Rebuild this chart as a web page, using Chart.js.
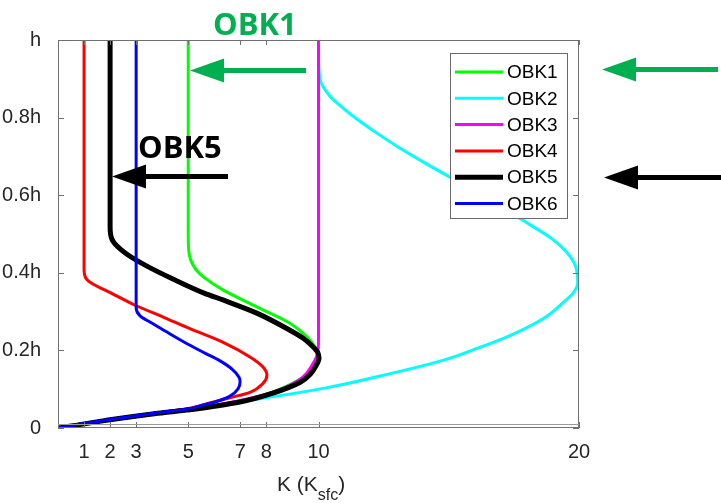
<!DOCTYPE html>
<html lang="en">
<head>
    <meta charset="UTF-8">
    <script src="https://cdn.jsdelivr.net/npm/chart.js"></script>
    <title>OBK profiles</title>
    <style>
        body{ margin:0; background:#fff; }
        #wrap{ width:721px; height:503px; position:relative; }
    </style>
</head>
<body>
    <div id="wrap">
        <canvas id="mychart" width="721" height="503"></canvas>
    </div>
    <script>
        // tick values / labels
        let xTicks = [1,2,3,5,7,8,10,20];
        let yTicks = [0,0.2,0.4,0.6,0.8,1];
        let yTickLabels = ["0","0.2h","0.4h","0.6h","0.8h","h"];

        let names  = ["OBK1","OBK2","OBK3","OBK4","OBK5","OBK6"];
        let colors = ["#00ff00","#00ffff","#ff00ff","#ff0000","#000000","#0000ff"];
        let widths = [3,3,3,3,5,3];

        // K (in K_sfc) and height z (in h), top to bottom
        let obk1K = [5,5,5.02,5.1,5.3,5.63,6.33,7.63,8.9,9.56,9.9,9.98,9.85,9.5,8.9,8.2,7.0,5.7,5.06,3.7,1.79,0.5,0];
        let obk1Z = [1,0.5,0.455,0.432,0.408,0.387,0.356,0.312,0.27,0.235,0.205,0.19,0.16,0.135,0.112,0.092,0.069,0.055,0.049,0.038,0.02,0.006,0];

        let obk2K = [10,10.01,10.06,10.44,10.95,11.6,12.24,13.13,14.16,15.06,16.4,17.7,18.95,19.5,19.85,19.95,19.78,19.42,18.65,17.37,16.08,14.8,12.24,10.33,7.63,5.06,3.7,1.79,0.5,0];
        let obk2Z = [1,0.95,0.898,0.855,0.824,0.79,0.76,0.721,0.68,0.646,0.596,0.541,0.488,0.455,0.42,0.375,0.348,0.325,0.283,0.239,0.205,0.175,0.132,0.104,0.074,0.047,0.037,0.019,0.005,0];

        let obk3K = [10,10,9.99,9.93,9.79,9.4,8.9,8.25,7.0,5.7,5.06,3.7,1.79,0.5,0];
        let obk3Z = [1,0.23,0.205,0.185,0.166,0.131,0.11,0.092,0.071,0.055,0.049,0.038,0.02,0.006,0];

        let obk4K = [1,1,1.08,1.29,2.06,2.94,4.1,5.06,6.3,7.37,7.87,8.02,7.87,7.37,6.6,5.9,5.06,3.7,1.79,0.5,0];
        let obk4Z = [1,0.41,0.385,0.373,0.347,0.317,0.284,0.256,0.222,0.183,0.157,0.136,0.115,0.092,0.078,0.066,0.051,0.038,0.02,0.006,0];

        let obk5K = [2,2,2.05,2.17,2.69,3.45,4.35,5.63,6.33,7.63,8.9,9.4,9.75,9.97,10.02,9.9,9.7,9.3,8.25,6.98,5.71,5.06,3.7,1.79,0.5,0];
        let obk5Z = [1,0.52,0.49,0.476,0.446,0.416,0.386,0.347,0.33,0.296,0.252,0.232,0.212,0.195,0.18,0.16,0.14,0.118,0.09,0.067,0.053,0.047,0.037,0.019,0.005,0];

        let obk6K = [3,3,3.15,3.53,4.11,4.99,5.64,6.22,6.68,6.95,6.99,6.91,6.6,6.03,5.45,4.99,3.7,1.79,0.5,0];
        let obk6Z = [1,0.31,0.289,0.273,0.25,0.216,0.193,0.173,0.152,0.131,0.119,0.101,0.082,0.067,0.057,0.049,0.038,0.02,0.006,0];

        let seriesK = [obk1K,obk2K,obk3K,obk4K,obk5K,obk6K];
        let seriesZ = [obk1Z,obk2Z,obk3Z,obk4Z,obk5Z,obk6Z];

        let axisFont = "'Liberation Sans', Arial, sans-serif";
        let axisColor = "#262626";

        // arrows, labels, legend, box, inward ticks, x title
        function arrow(ctx, tipX, endX, y, color){
            ctx.fillStyle = color;
            ctx.fillRect(tipX+30, y-2.5, endX-tipX-30, 5);
            ctx.beginPath();
            ctx.moveTo(tipX, y);
            ctx.lineTo(tipX+34, y-12);
            ctx.lineTo(tipX+34, y+12);
            ctx.closePath();
            ctx.fill();
        }

        let decor = {
            id: "decor",
            afterDatasetsDraw(chart){
                let ctx = chart.ctx;
                let ca = chart.chartArea;
                let sx = chart.scales.x, sy = chart.scales.y;
                ctx.save();
                ctx.strokeStyle = "#707070";
                ctx.lineWidth = 1;
                // inward ticks
                ctx.beginPath();
                xTicks.forEach(v=>{
                    let px = Math.round(sx.getPixelForValue(v)) + 0.5;
                    ctx.moveTo(px, ca.bottom); ctx.lineTo(px, ca.bottom-6);
                    ctx.moveTo(px, ca.top);    ctx.lineTo(px, ca.top+5);
                });
                yTicks.forEach(v=>{
                    let py = Math.round(sy.getPixelForValue(v)) + 0.5;
                    ctx.moveTo(ca.left, py);  ctx.lineTo(ca.left+6, py);
                    ctx.moveTo(ca.right, py); ctx.lineTo(ca.right-6, py);
                });
                ctx.stroke();
                // box
                ctx.strokeRect(Math.round(ca.left)+0.5, Math.round(ca.top)+0.5,
                               Math.round(ca.right-ca.left)-1, Math.round(ca.bottom-ca.top)-1);
                ctx.strokeStyle = "#9a9a9a";
                ctx.beginPath();
                ctx.moveTo(ca.left, ca.bottom-3.5); ctx.lineTo(ca.right, ca.bottom-3.5);
                ctx.stroke();
                ctx.restore();
            },
            afterDraw(chart){
                let ctx = chart.ctx;
                ctx.save();
                // legend
                ctx.fillStyle = "#fff";
                ctx.fillRect(450, 53, 117, 165);
                ctx.strokeStyle = "#6a6a6a";
                ctx.lineWidth = 1;
                ctx.strokeRect(450.5, 53.5, 117, 165);
                ctx.font = "19px " + axisFont;
                ctx.textBaseline = "middle";
                ctx.textAlign = "left";
                names.forEach((n,i)=>{
                    let y = 72 + i*26.3;
                    ctx.strokeStyle = colors[i];
                    ctx.lineWidth = widths[i];
                    ctx.beginPath();
                    ctx.moveTo(455, y); ctx.lineTo(503, y);
                    ctx.stroke();
                    ctx.fillStyle = "#000";
                    ctx.fillText(n, 507, y+1);
                });

                // annotations
                arrow(ctx, 190, 306, 70.5, "#00b050");
                arrow(ctx, 602, 718, 69.5, "#00b050");
                arrow(ctx, 112, 228, 176.5, "#000");
                arrow(ctx, 604, 721, 177.5, "#000");
                ctx.textBaseline = "alphabetic";
                ctx.font = "bold 31px 'Open Sans', sans-serif";
                ctx.fillStyle = "#00b050";
                ctx.fillText("OBK1", 213, 35);
                ctx.fillStyle = "#000";
                ctx.fillText("OBK5", 138, 158);

                // x title with subscript
                ctx.fillStyle = axisColor;
                ctx.font = "21px " + axisFont;
                let x0 = 277;
                ctx.fillText("K (K", x0, 491);
                x0 += ctx.measureText("K (K").width;
                ctx.font = "16px " + axisFont;
                ctx.fillText("sfc", x0, 500);
                x0 += ctx.measureText("sfc").width;
                ctx.font = "21px " + axisFont;
                ctx.fillText(")", x0, 491);
                ctx.restore();
            }
        };

        let datasets = names.map((n,i)=>({
            label: n,
            data: seriesK[i].map((k,j)=>({x:k, y:seriesZ[i][j]})),
            showLine: true,
            indexAxis: "y",
            borderColor: colors[i],
            backgroundColor: colors[i],
            borderWidth: widths[i],
            pointRadius: 0,
            cubicInterpolationMode: "monotone",
            order: names.length - i
        }));

        let ctx = document.querySelector("#mychart");
        let chart = new Chart(ctx, {
            type: "scatter",
            data: { datasets: datasets },
            options: {
                responsive: false,
                animation: false,
                devicePixelRatio: 1,
                indexAxis: "y",
                layout: { padding: { left:0, top:40, right:142, bottom:0 } },
                plugins: { legend:{ display:false }, tooltip:{ enabled:false } },
                scales: {
                    x: {
                        type: "linear", min: 0, max: 20,
                        grid: { display:false },
                        border: { display:false },
                        afterBuildTicks: s=>{ s.ticks = xTicks.map(v=>({value:v})); },
                        afterFit: s=>{ s.height = 75; },
                        ticks: {
                            autoSkip: false, maxRotation: 0, padding: 4,
                            color: axisColor,
                            font: { family: axisFont, size: 20 },
                            callback: v=>String(v)
                        }
                    },
                    y: {
                        type: "linear", min: 0, max: 1,
                        grid: { display:false },
                        border: { display:false },
                        afterBuildTicks: s=>{ s.ticks = yTicks.map(v=>({value:v})); },
                        afterFit: s=>{ s.width = 58; },
                        ticks: {
                            autoSkip: false, padding: 9,
                            color: axisColor,
                            font: { family: axisFont, size: 20 },
                            callback: v=>yTickLabels[yTicks.findIndex(t=>Math.abs(t-v)<1e-6)]
                        }
                    }
                }
            },
            plugins: [decor]
        });
    </script>
</body>
</html>
